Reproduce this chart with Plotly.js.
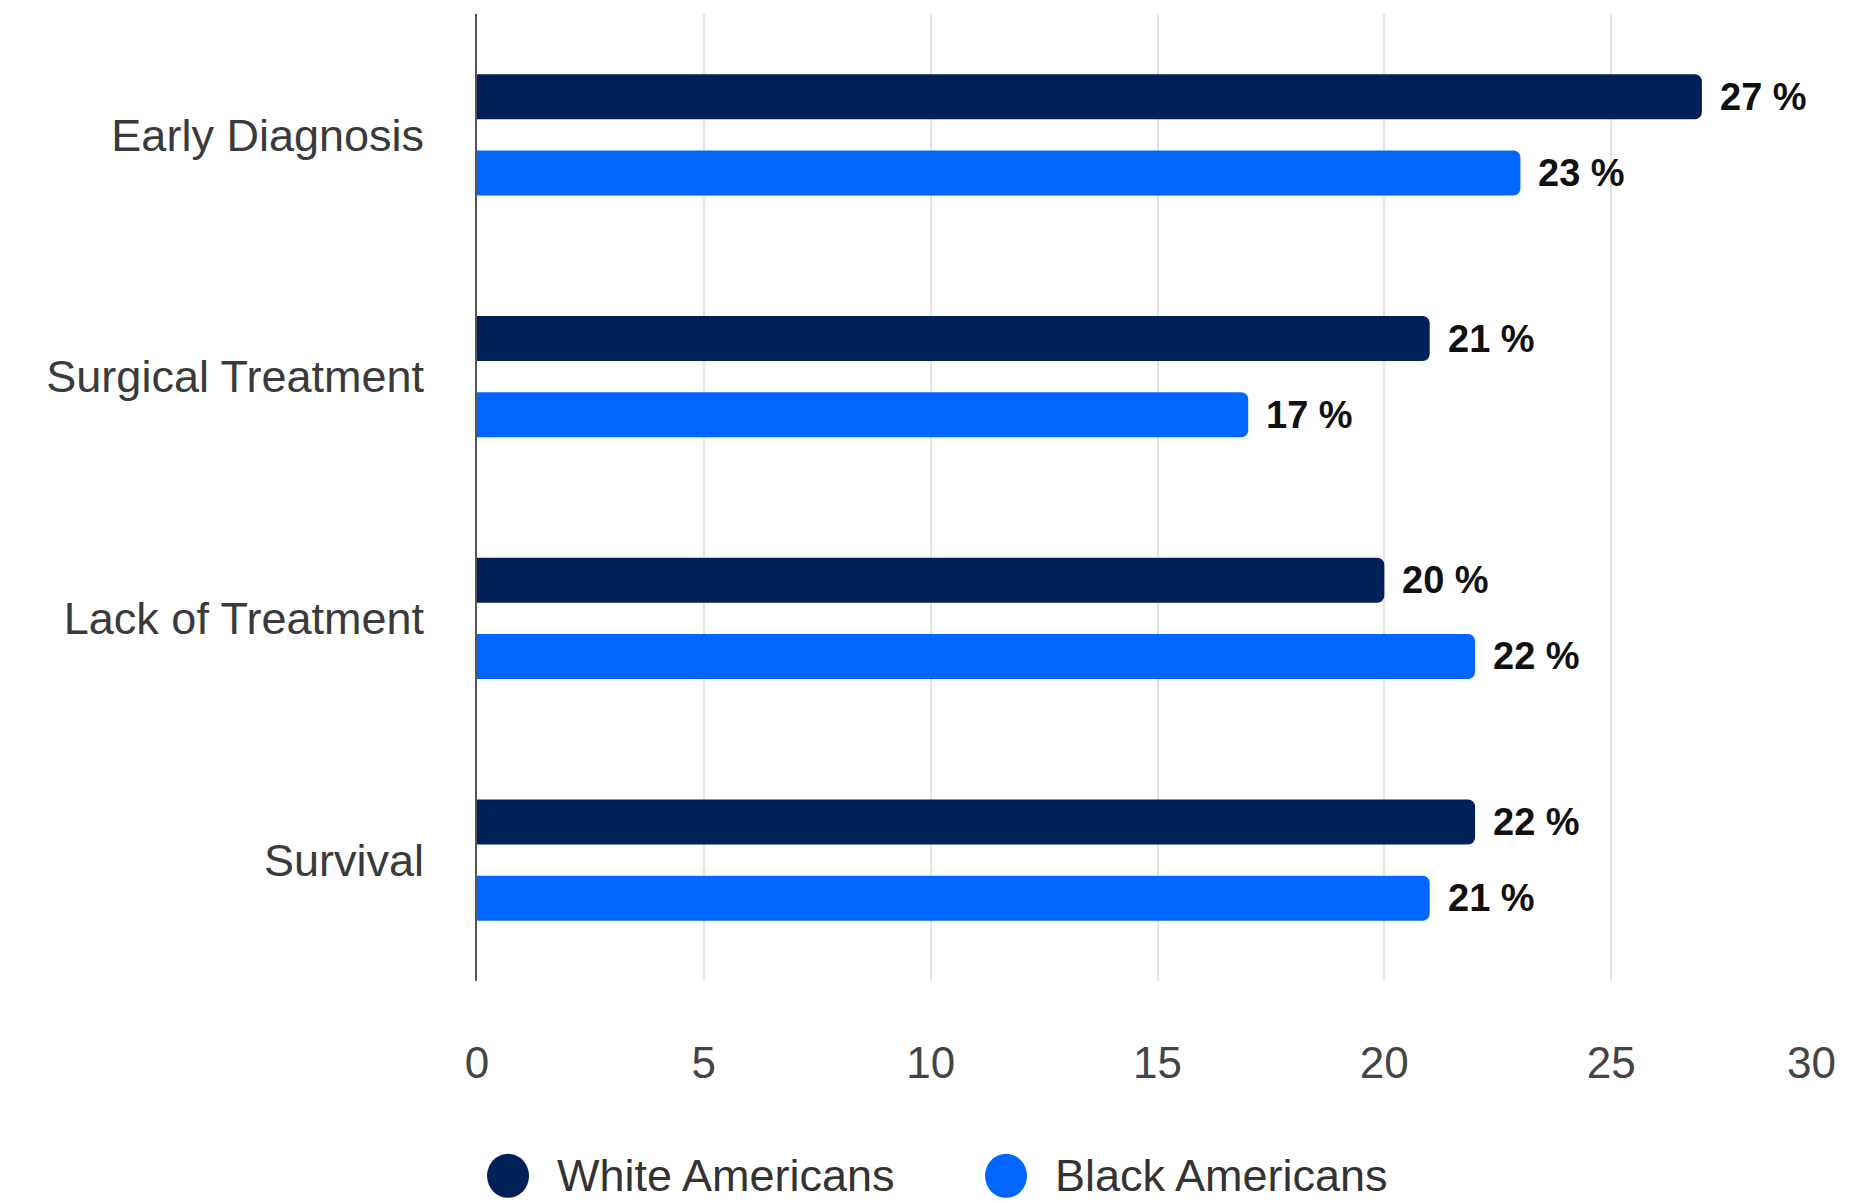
<!DOCTYPE html>
<html>
<head>
<meta charset="utf-8">
<script src="https://cdn.plot.ly/plotly-3.0.1.min.js"></script>
<style>html,body{margin:0;padding:0;background:#fff;}#chart{width:1864px;height:1203px;}</style>
</head>
<body>
<div id="chart"></div>
<script>
const categories = ['Early Diagnosis', 'Surgical Treatment', 'Lack of Treatment', 'Survival'];
const seriesNames = ['White Americans', 'Black Americans'];
const whiteValues = [27, 21, 20, 22];
const blackValues = [23, 17, 22, 21];
const seriesColors = ['#002157', '#0066ff'];
const xTicks = [0, 5, 10, 15, 20, 25, 30];

const FONT = 'Liberation Sans, Arial, sans-serif';
const seriesValues = [whiteValues, blackValues];

const traces = seriesValues.map((vals, i) => ({
  type: 'bar',
  orientation: 'h',
  name: seriesNames[i],
  y: categories,
  x: vals,
  marker: {color: seriesColors[i], cornerradius: 7},
  showlegend: false,
  hoverinfo: 'skip'
}));

const annotations = [];
const yshifts = [38, -38];
seriesValues.forEach((vals, i) => {
  vals.forEach((v, j) => {
    annotations.push({
      x: v, y: categories[j], xref: 'x', yref: 'y',
      text: v + ' %', showarrow: false,
      xanchor: 'left', yanchor: 'middle',
      xshift: 16, yshift: yshifts[i],
      font: {family: FONT, size: 38, color: '#111', weight: 'bold'}
    });
  });
});

// last tick label is right-aligned to its gridline (kept inside the canvas)
const lastTick = xTicks[xTicks.length - 1];
annotations.push({
  x: lastTick, y: -0.0838, xref: 'x', yref: 'paper',
  text: String(lastTick), showarrow: false,
  xanchor: 'right', yanchor: 'middle',
  font: {family: FONT, size: 44, color: '#444'}
});

// custom legend with round markers
const legendX = [0.0228, 0.3887];
const legendTextX = [0.0573, 0.4232];
const legendY = -0.2015;
const shapes = [];
seriesNames.forEach((name, i) => {
  shapes.push({
    type: 'circle', xref: 'paper', yref: 'paper',
    xsizemode: 'pixel', ysizemode: 'pixel',
    xanchor: legendX[i], yanchor: legendY,
    x0: -21, x1: 21, y0: -22, y1: 22,
    fillcolor: seriesColors[i], line: {width: 0}
  });
  annotations.push({
    x: legendTextX[i], y: legendY, xref: 'paper', yref: 'paper',
    text: name, showarrow: false, xanchor: 'left', yanchor: 'middle',
    font: {family: FONT, size: 45, color: '#333'}
  });
});

const layout = {
  width: 1864, height: 1203,
  margin: {l: 477, r: 26, t: 14, b: 222},
  paper_bgcolor: '#fff', plot_bgcolor: '#fff',
  barmode: 'group', bargap: 0.37, bargroupgap: 0.408,
  showlegend: false,
  xaxis: {
    range: [0, 30], tickvals: xTicks,
    ticktext: xTicks.map((t, i) => i === xTicks.length - 1 ? ' ' : String(t)),
    showgrid: true, gridcolor: '#e3e3e3', gridwidth: 2,
    zeroline: false, showline: false, ticks: '',
    ticklabelstandoff: 52,
    tickfont: {family: FONT, size: 44, color: '#444'},
    fixedrange: true
  },
  yaxis: {
    type: 'category', autorange: 'reversed',
    showgrid: false, zeroline: false,
    showline: true, linecolor: '#555', linewidth: 2,
    ticks: '', ticklabelstandoff: 42,
    tickfont: {family: FONT, size: 45, color: '#3a3a3a'},
    fixedrange: true
  },
  annotations: annotations,
  shapes: shapes
};

Plotly.newPlot('chart', traces, layout, {displayModeBar: false, staticPlot: true});
</script>
</body>
</html>
